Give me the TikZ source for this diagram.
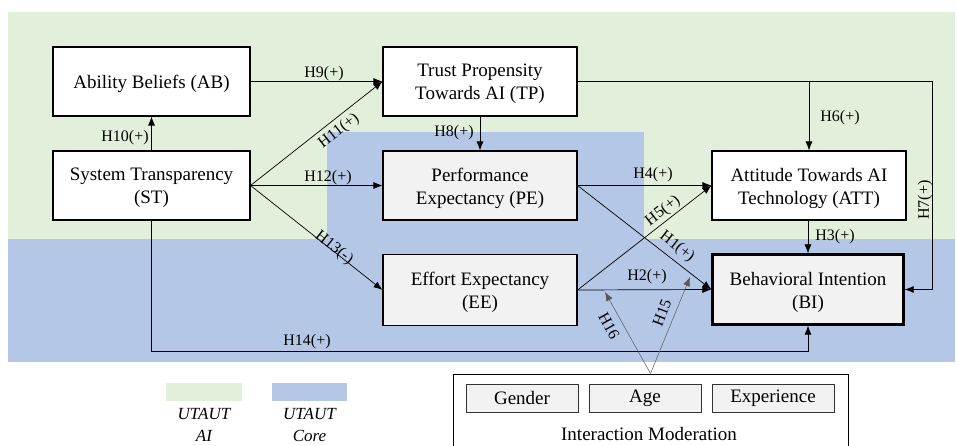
\documentclass[tikz,border=0pt]{standalone}
\usepackage{fontspec}
\setmainfont{Liberation Serif}
\usetikzlibrary{arrows.meta}
\definecolor{aigreen}{HTML}{E2EFDA}
\definecolor{coreblue}{HTML}{B4C7E7}
\definecolor{boxgray}{HTML}{F2F2F2}
\begin{document}
\begin{tikzpicture}[x=1pt,y=-1pt,
  box/.style={draw=black, line width=1.1pt, fill=white, inner sep=0pt},
  corebox/.style={box, fill=boxgray},
  boxtext/.style={inner sep=0pt, align=center, font=\fontsize{19}{23}\selectfont},
  modbox/.style={draw=black!80, line width=0.9pt, fill=boxgray, inner sep=0pt,
    minimum height=28, font=\fontsize{19}{23}\selectfont},
  conn/.style={line width=0.7pt, -{Latex[length=9pt,width=7pt]}},
  modconn/.style={line width=0.5pt, draw=black!65, -{Latex[length=9pt,width=7pt]}},
  hlab/.style={inner sep=0pt, font=\fontsize{16}{18}\selectfont},
  legtext/.style={inner sep=0pt, align=center, font=\fontsize{17}{22}\itshape\selectfont}
]
\useasboundingbox (0,0) rectangle (957,446);
\clip (0,0) rectangle (957,446);
% backgrounds
\fill[aigreen] (8,12) rectangle (955,239);
\fill[coreblue] (8,239) rectangle (955,362);
\fill[coreblue] (327,132) rectangle (644,239.5);

% boxes
\node[box, minimum width=197, minimum height=69] (AB) at (151.5,81.5) {};
\node[box, minimum width=197, minimum height=69] (ST) at (151.5,185.5) {};
\node[box, minimum width=194, minimum height=69] (TP) at (480,81.5) {};
\node[corebox, minimum width=194, minimum height=69] (PE) at (480,185.5) {};
\node[corebox, minimum width=194, minimum height=71] (EE) at (480,290) {};
\node[box, minimum width=194, minimum height=69] (ATT) at (809,185.5) {};
\node[corebox, line width=2.4pt, minimum width=191, minimum height=70] (BI) at (808,289.5) {};
% box texts
\node[boxtext] (ABt) at (151.5,84) {Ability Beliefs (AB)};
\node[boxtext] (STt) at (151.5,188) {System Transparency\\(ST)};
\node[boxtext] (TPt) at (480,84) {Trust Propensity\\Towards AI (TP)};
\node[boxtext] (PEt) at (480,188) {Performance\\Expectancy (PE)};
\node[boxtext] (EEt) at (480,292.5) {Effort Expectancy\\(EE)};
\node[boxtext] (ATTt) at (809,188) {Attitude Towards AI\\Technology (ATT)};
\node[boxtext] (BIt) at (808,292) {Behavioral Intention\\(BI)};

% helper coordinates
\coordinate (c7) at (932,81.5);
\coordinate (c14) at (808,351);
\coordinate (h16) at (605,292);
\coordinate (h15) at (690,277);

% connectors
\draw[conn] (AB.east) -- (TP.west);
\draw[conn] (ST.north) -- (AB.south);
\draw[conn] (ST.east) -- (TP.west);
\draw[conn] (ST.east) -- (PE.west);
\draw[conn] (ST.east) -- (EE.west);
\draw[conn] (ST.south) |- (c14) -- (BI.south);
\draw[conn] (TP.south) -- (PE.north);
\draw[conn] (TP.east) -| (ATT.north);
\draw[conn] (TP.east) -- (c7) |- (BI.east);
\draw[conn] (PE.east) -- (ATT.west);
\draw[conn] (PE.east) -- (BI.west);
\draw[conn] (EE.east) -- (ATT.west);
\draw[conn] (EE.east) -- (BI.west);
\draw[conn] (ATT.south -| BI.north) -- (BI.north);

% labels
\node[hlab] (l9) at (324,74) {H9(+)};
\node[hlab] (l10) at (125,138) {H10(+)};
\node[hlab, rotate=37.8] (l11) at (339,131) {H11(+)};
\node[hlab] (l12) at (328,178) {H12(+)};
\node[hlab, rotate=-38] (l13) at (334,248) {H13(-)};
\node[hlab] (l14) at (307,342) {H14(+)};
\node[hlab] (l8) at (454,133) {H8(+)};
\node[hlab] (l6) at (840,118) {H6(+)};
\node[hlab, rotate=90] (l7) at (925,200) {H7(+)};
\node[hlab] (l4) at (653,175) {H4(+)};
\node[hlab, rotate=38] (l5) at (663,211) {H5(+)};
\node[hlab, rotate=-38] (l1) at (677,247) {H1(+)};
\node[hlab] (l2) at (647,277) {H2(+)};
\node[hlab] (l3) at (835,237) {H3(+)};

% moderation box
\node[draw=black, line width=0.9pt, fill=white, minimum width=395, minimum height=90, inner sep=0pt] (MOD) at (650.5,419) {};
\node[modbox, minimum width=112] (gender) at (522,398) {Gender};
\node[modbox, minimum width=112] (age) at (645,398) {Age};
\node[modbox, minimum width=122] (exp) at (773,398) {Experience};
\node[inner sep=0pt, font=\fontsize{19}{23}\selectfont] (imod) at (649,434) {Interaction Moderation};

\draw[modconn] (MOD.north) -- (h16);
\draw[modconn] (MOD.north) -- (h15);
\node[hlab, rotate=-61] (l16) at (609,326) {H16};
\node[hlab, rotate=69] (l15) at (662,313) {H15};

% legend
\fill[aigreen] (166,383) rectangle (242,401);
\fill[coreblue] (272,383) rectangle (347,401);
\node[legtext] (legai) at (204,425) {UTAUT\\AI};
\node[legtext] (legcore) at (309.5,425) {UTAUT\\Core};
\end{tikzpicture}
\end{document}
